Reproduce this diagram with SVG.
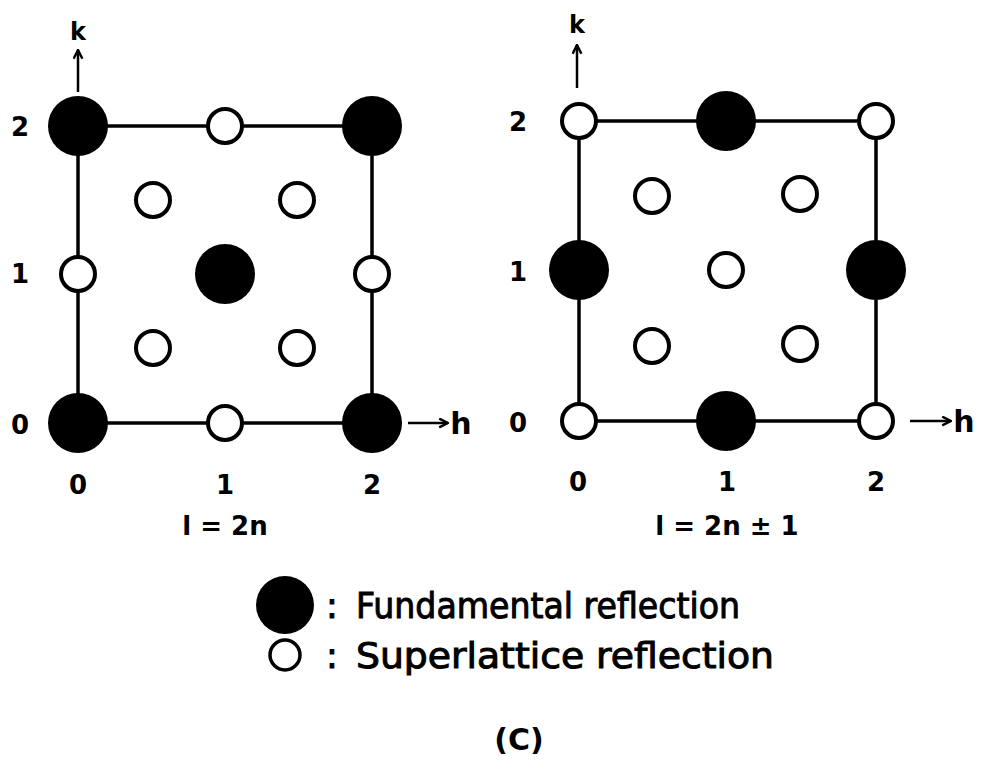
<svg xmlns="http://www.w3.org/2000/svg" width="982" height="774" viewBox="0 0 982 774">
<defs>
<style>
.ln{stroke:#000;stroke-width:3.5;fill:none}
.f{fill:#000}
.o{fill:#fff;stroke:#000;stroke-width:4}
.t{font-family:"DejaVu Sans","Liberation Sans",sans-serif;fill:#000;text-anchor:middle;font-weight:bold}
.n{font-size:26px}
.lg{font-size:35px;text-anchor:start;font-weight:normal;stroke:#000;stroke-width:1}
</style>
<marker id="ah" viewBox="0 0 10 10" refX="9" refY="5" markerWidth="11" markerHeight="11" markerUnits="userSpaceOnUse" orient="auto">
<path d="M1,1 L9,5 L1,9" fill="none" stroke="#000" stroke-width="2.2"/>
</marker>
</defs>
<rect width="982" height="774" fill="#fff"/>
<g id="connectors">
<path class="ln" d="M78,126 H372 M78,126 V423 M372,126 V423 M78,423 H372"/>
<path class="ln" d="M579,121 H876 M579,121 V421 M876,121 V421 M579,421 H876"/>
<line x1="78" y1="92" x2="78" y2="50" stroke="#000" stroke-width="2.5" marker-end="url(#ah)"/>
<line x1="577" y1="88" x2="577" y2="45" stroke="#000" stroke-width="2.5" marker-end="url(#ah)"/>
<line x1="408" y1="423" x2="448" y2="423" stroke="#000" stroke-width="2.5" marker-end="url(#ah)"/>
<line x1="910" y1="421" x2="951" y2="421" stroke="#000" stroke-width="2.5" marker-end="url(#ah)"/>
</g>
<g id="left-panel">
<circle id="L00" class="f" cx="78" cy="423" r="30"/>
<circle id="L10" class="o" cx="225" cy="423" r="17"/>
<circle id="L20" class="f" cx="372" cy="423" r="30"/>
<circle id="L01" class="o" cx="78" cy="274" r="17"/>
<circle id="L11" class="f" cx="225" cy="274" r="30"/>
<circle id="L21" class="o" cx="372" cy="274" r="17"/>
<circle id="L02" class="f" cx="78" cy="126" r="30"/>
<circle id="L12" class="o" cx="225" cy="126" r="17"/>
<circle id="L22" class="f" cx="372" cy="126" r="30"/>
<circle class="o" cx="153" cy="200" r="17"/>
<circle class="o" cx="297" cy="200" r="17"/>
<circle class="o" cx="153" cy="348" r="17"/>
<circle class="o" cx="297" cy="348" r="17"/>
<text class="t" x="78" y="40" font-size="24">k</text>
<text class="t" x="461" y="434" font-size="30">h</text>
<text class="t n" x="20" y="136">2</text>
<text class="t n" x="20" y="283">1</text>
<text class="t n" x="20" y="434">0</text>
<text class="t n" x="78" y="494">0</text>
<text class="t n" x="225" y="494">1</text>
<text class="t n" x="372" y="494">2</text>
<text class="t n" x="225" y="535">l = 2n</text>
</g>
<g id="right-panel">
<circle id="R00" class="o" cx="579" cy="421" r="17"/>
<circle id="R10" class="f" cx="726" cy="421" r="30"/>
<circle id="R20" class="o" cx="876" cy="421" r="17"/>
<circle id="R01" class="f" cx="579" cy="270" r="30"/>
<circle id="R11" class="o" cx="726" cy="270" r="17"/>
<circle id="R21" class="f" cx="876" cy="270" r="30"/>
<circle id="R02" class="o" cx="579" cy="121" r="17"/>
<circle id="R12" class="f" cx="726" cy="121" r="30"/>
<circle id="R22" class="o" cx="876" cy="121" r="17"/>
<circle class="o" cx="652" cy="196" r="17"/>
<circle class="o" cx="800" cy="194" r="17"/>
<circle class="o" cx="652" cy="346" r="17"/>
<circle class="o" cx="800" cy="344" r="17"/>
<text class="t" x="577" y="33" font-size="24">k</text>
<text class="t" x="964" y="432" font-size="30">h</text>
<text class="t n" x="518" y="131">2</text>
<text class="t n" x="518" y="281">1</text>
<text class="t n" x="518" y="432">0</text>
<text class="t n" x="578" y="491">0</text>
<text class="t n" x="727" y="491">1</text>
<text class="t n" x="876" y="491">2</text>
<text class="t n" x="727" y="535">l = 2n ± 1</text>
</g>
<g id="legend">
<circle class="f" cx="285" cy="605" r="29"/>
<circle class="o" cx="285" cy="655" r="15" style="stroke-width:3.5"/>
<text class="t lg" x="326" y="618">:</text>
<text class="t lg" x="356" y="618" textLength="384" lengthAdjust="spacingAndGlyphs">Fundamental reflection</text>
<text class="t lg" x="326" y="668">:</text>
<text class="t lg" x="356" y="668" textLength="418" lengthAdjust="spacingAndGlyphs">Superlattice reflection</text>
<text class="t" x="519" y="750" font-size="30">(C)</text>
</g>
</svg>
